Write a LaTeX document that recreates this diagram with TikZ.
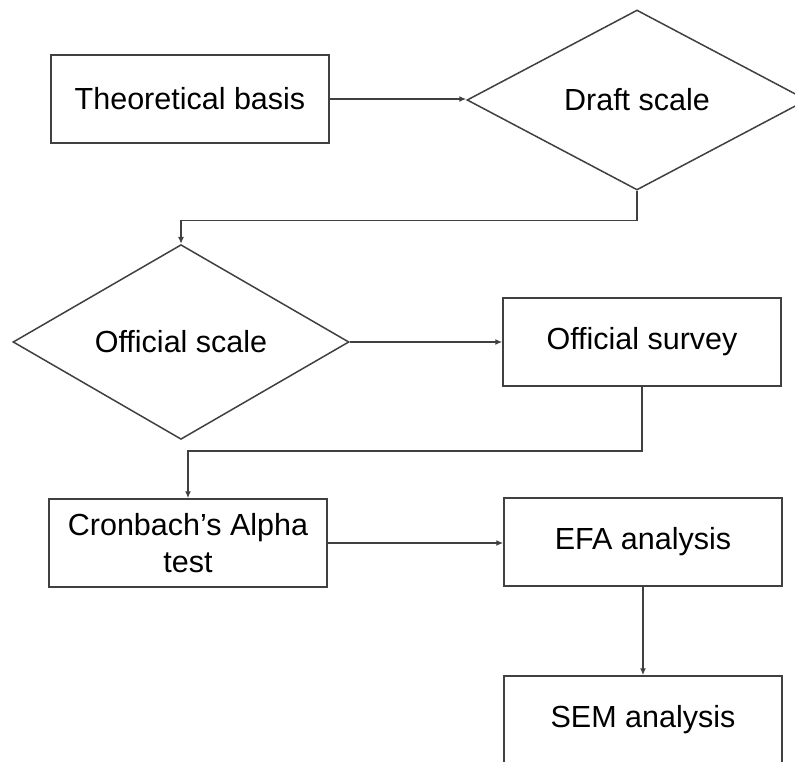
\documentclass[tikz,border=0pt]{standalone}
\usepackage{fontspec}
\setmainfont{Liberation Sans}
\usetikzlibrary{shapes.geometric,arrows.meta}

\begin{document}
\begin{tikzpicture}[x=1pt,y=-1pt,
	box/.style={draw=black!75, line width=1.5pt, rectangle, minimum width=278pt, minimum height=88pt, inner sep=0pt, align=center, font=\fontsize{30.5}{37}\selectfont},
	choice/.style={draw=black!75, line width=1.5pt, diamond, inner sep=0pt, font=\fontsize{30.5}{37}\selectfont},
	arr/.style={draw=black!75, line width=1.5pt, -{Latex[length=7pt,width=6pt]}}]

\clip (0,0) rectangle (795,762);
\useasboundingbox (0,0) rectangle (795,762);

\foreach \name/\x/\y/\txt in {basis/190/99/{Theoretical basis}, survey/642/342/{Official survey}, alpha/188/543/{Cronbach’s Alpha\\test}, efa/643/542/{EFA analysis}, sem/643/720/{SEM analysis}}{
	\node[box] (\name) at (\x,\y) {\txt};
}
\node[choice, minimum width=340pt, minimum height=180pt] (draft) at (637,100) {Draft scale};
\node[choice, minimum width=336pt, minimum height=172pt] (offscale) at (181,342) {Official scale};

\draw[arr] (basis.east) -- (draft.west |- basis.east);
\draw[arr] (draft.south) -- ++(0,30) -| (offscale.north);
\draw[arr] (offscale) -- (survey);
\draw[arr] (survey.south) -- ++(0,64) -| (alpha.north);
\draw[arr] (alpha.east) -- (efa.west |- alpha.east);
\draw[arr] (efa) -- (sem);

\end{tikzpicture}
\end{document}
